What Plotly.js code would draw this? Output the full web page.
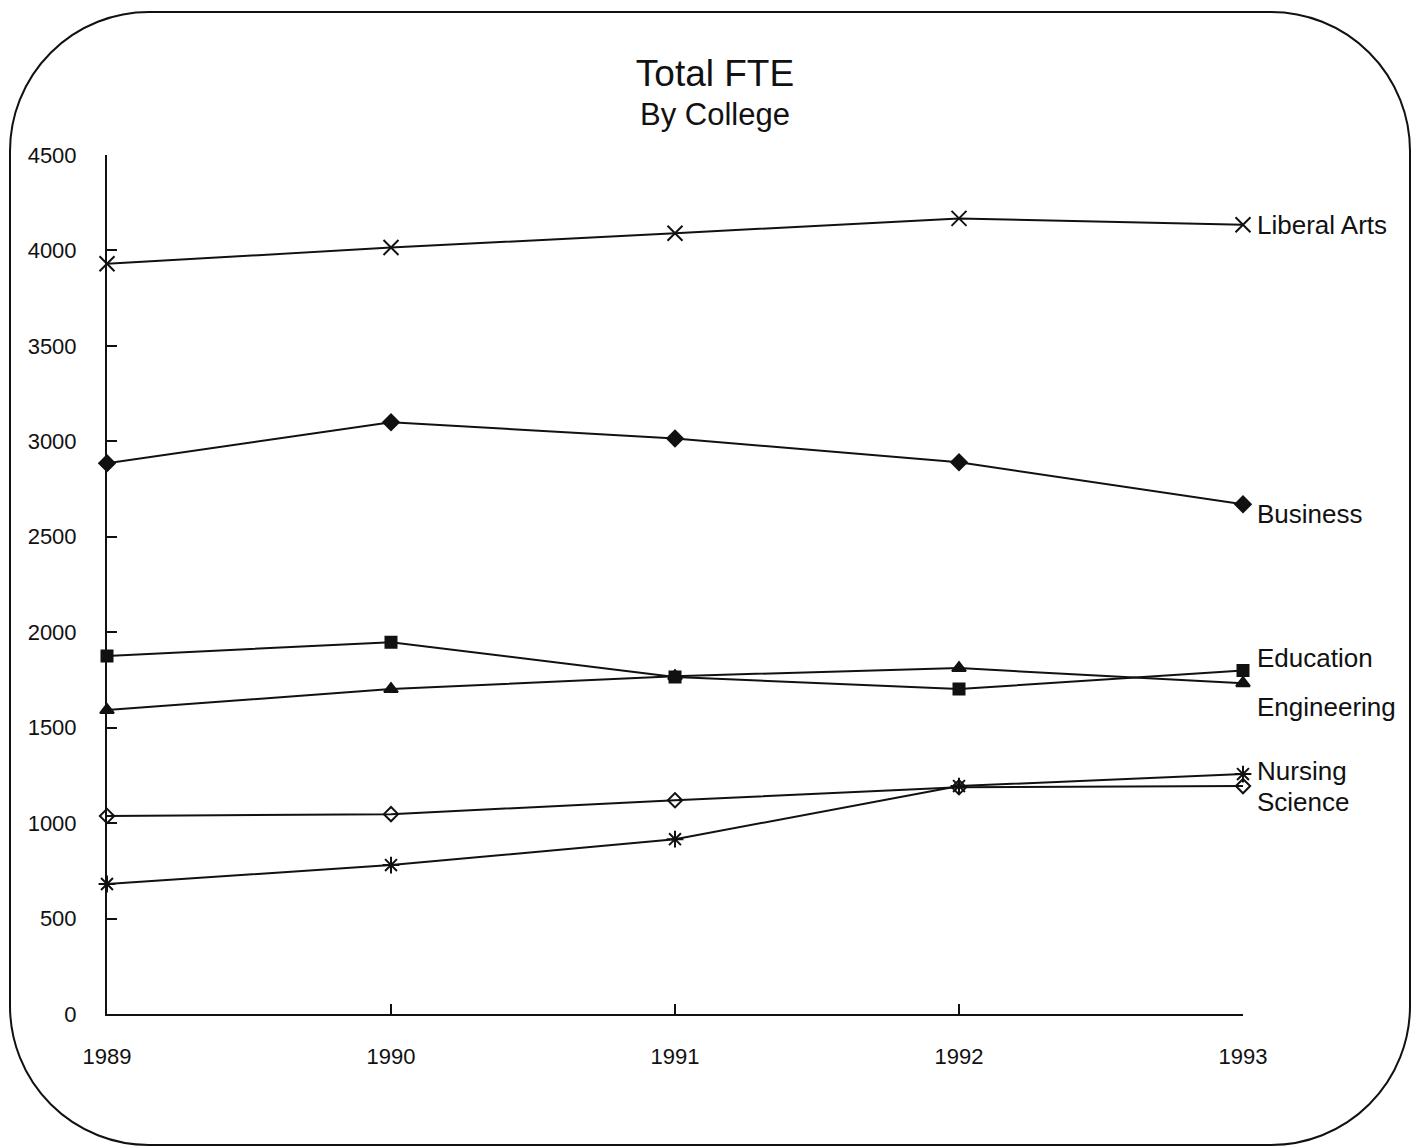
<!DOCTYPE html>
<html>
<head>
<meta charset="utf-8">
<script src="https://cdn.plot.ly/plotly-3.0.1.min.js"></script>
<style>
  html, body { margin: 0; padding: 0; background: #fff; }
  #wrap { position: relative; width: 1413px; height: 1148px; }
  #chart { width: 1413px; height: 1148px; }
  #frame {
    position: absolute; left: 9px; top: 11px; width: 1398px; height: 1131px;
    border: 2.5px solid #111; border-radius: 140px; pointer-events: none;
  }
</style>
</head>
<body>
<div id="wrap">
  <div id="chart"></div>
  <div id="frame"></div>
</div>
<script>
const years = [1989, 1990, 1991, 1992, 1993];
const liberalArts = [3930, 4015, 4090, 4168, 4135];
const business    = [2885, 3100, 3015, 2890, 2670];
const education   = [1875, 1948, 1765, 1702, 1800];
const engineering = [1592, 1702, 1770, 1812, 1733];
const nursing     = [681, 780, 916, 1194, 1257];
const science     = [1037, 1047, 1120, 1188, 1194];
const yTicks = [0, 500, 1000, 1500, 2000, 2500, 3000, 3500, 4000, 4500];
const titleText = 'Total FTE';
const subtitleText = 'By College';

const series = [
  {name: 'Liberal Arts', y: liberalArts, symbol: 'x-thin-open', size: 15, shift: 0},
  {name: 'Business',     y: business,    symbol: 'diamond',     size: 12, shift: -10},
  {name: 'Education',    y: education,   symbol: 'square',      size: 11, shift: 12},
  {name: 'Engineering',  y: engineering, symbol: 'triangle-up', size: 12, shift: -24},
  {name: 'Nursing',      y: nursing,     symbol: 'asterisk-open', size: 14, shift: 3},
  {name: 'Science',      y: science,     symbol: 'diamond-open', size: 11, shift: -16}
];

const FONT = 'Liberation Sans, Arial, Helvetica, sans-serif';

const traces = series.map(s => ({
  type: 'scatter', mode: 'lines+markers', name: s.name,
  x: years, y: s.y,
  line: {color: '#111', width: 2},
  marker: {symbol: s.symbol, size: s.size, color: '#111',
           line: {color: '#111', width: 2}},
  cliponaxis: false, hoverinfo: 'x+y+name'
}));

const annotations = series.map(s => ({
  x: years[years.length - 1], y: s.y[s.y.length - 1], xref: 'x', yref: 'y',
  text: s.name, showarrow: false, xanchor: 'left', yanchor: 'middle',
  xshift: 12, yshift: s.shift,
  font: {family: FONT, size: 26, color: '#111'}
}));
annotations.push({
  text: subtitleText, xref: 'paper', yref: 'paper',
  x: (715 - 107) / 1136, y: (1014 - 114) / 859,
  xanchor: 'center', yanchor: 'middle', showarrow: false,
  font: {family: FONT, size: 31, color: '#111'}
});

const layout = {
  width: 1413, height: 1148,
  margin: {l: 107, r: 170, t: 155, b: 134},
  paper_bgcolor: '#fff', plot_bgcolor: '#fff',
  showlegend: false,
  font: {family: FONT, color: '#111'},
  title: {
    text: titleText,
    font: {family: FONT, size: 37, color: '#111'},
    xref: 'container', yref: 'container',
    x: 715 / 1413, xanchor: 'center', y: 1 - 73/1148, yanchor: 'middle'
  },
  xaxis: {
    range: [1989, 1993], tickvals: years, ticktext: years.map(String),
    showgrid: false, zeroline: false,
    showline: true, linecolor: '#111', linewidth: 2,
    ticks: 'inside', ticklen: 10, tickwidth: 2, tickcolor: '#111',
    tickfont: {family: FONT, size: 22, color: '#111'},
    ticklabelstandoff: 22
  },
  yaxis: {
    range: [0, 4500], tickvals: yTicks, ticktext: yTicks.map(String),
    showgrid: false, zeroline: false,
    showline: true, linecolor: '#111', linewidth: 2,
    ticks: 'inside', ticklen: 10, tickwidth: 2, tickcolor: '#111',
    tickfont: {family: FONT, size: 22, color: '#111'},
    ticklabelstandoff: 24
  },
  annotations: annotations
};

Plotly.newPlot('chart', traces, layout, {displayModeBar: false, staticPlot: true});
</script>
</body>
</html>
